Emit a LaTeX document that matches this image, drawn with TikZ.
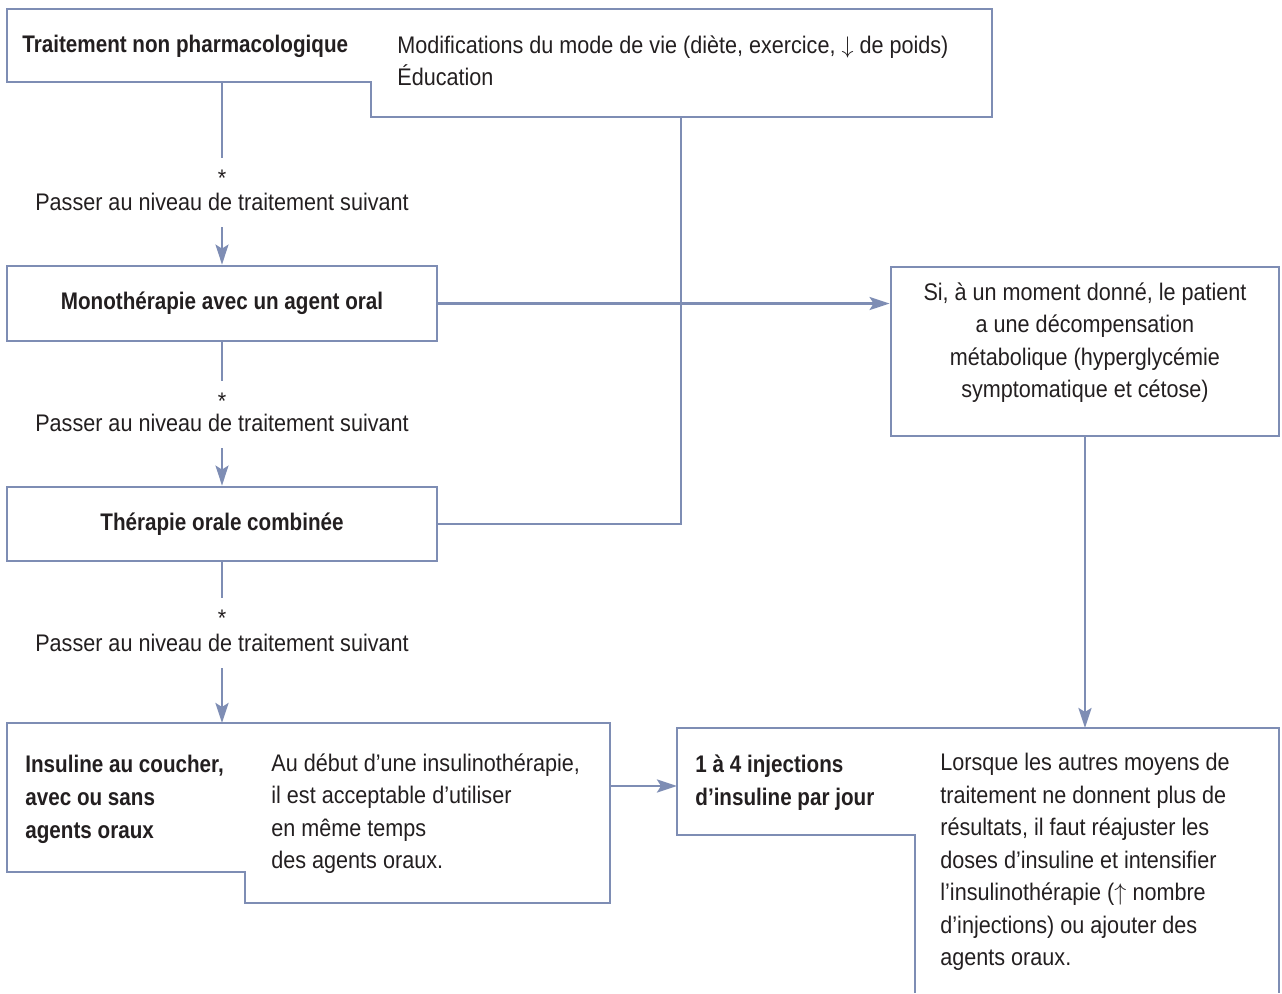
\documentclass[tikz,border=0pt]{standalone}
\usepackage{fontspec}
\setmainfont{Liberation Sans}[FakeStretch=0.9]
\newfontfamily\hdfont{Liberation Sans}[FakeStretch=0.86]
\usetikzlibrary{arrows.meta}
\definecolor{edge}{RGB}{126,141,180}
\definecolor{ink}{RGB}{35,31,32}

\begin{document}
\begin{tikzpicture}[
  x=0.5pt, y=-0.5pt,
  conn/.style={draw=edge, line width=1.4pt},
  arr/.style={conn, -{Stealth[length=10pt, width=6.5pt, inset=2pt]}},
  shapeline/.style={conn, line join=miter},
  txt/.style={inner sep=0pt, text=ink, align=left, font=\fontsize{12}{16.25}\selectfont},
  hd/.style={txt, font=\hdfont\bfseries\fontsize{12}{16.5}\selectfont},
  boxn/.style={conn, hd, align=center, minimum width=215pt, minimum height=37.5pt},
  astk/.style={txt, anchor=north, outer ysep=6pt},
  lab/.style={txt, anchor=base, outer ysep=8.5pt},
]
\useasboundingbox (0,0) rectangle (1282,993);

% top level: non pharmacological
\draw[shapeline] (7,9) -- (992,9) -- (992,117) -- (371,117) -- (371,82) -- (7,82) -- cycle;
\node[hd, anchor=base west] (tnp) at (22,52) {Traitement non pharmacologique};
\node[txt, anchor=north west] (tnpdesc) at (397,35) {Modifications du mode de vie (diète, exercice, $\downarrow$ de poids)\\Éducation};
\coordinate (tnpfoot) at (222,82);
\coordinate (tnpjoin) at (681,117);

% step to monotherapy
\node[astk] (ast1) at (222,158) {*};
\node[lab] (pass1) at (222,210) {Passer au niveau de traitement suivant};
\node[boxn] (mono) at (222,303.5) {Monothérapie avec un agent oral};

% step to combined therapy
\node[astk] (ast2) at (222,381) {*};
\node[lab] (pass2) at (222,431) {Passer au niveau de traitement suivant};
\node[boxn, minimum height=37pt] (combo) at (222,524) {Thérapie orale combinée};

% step to insulin
\node[astk] (ast3) at (222,598) {*};
\node[lab] (pass3) at (222,651) {Passer au niveau de traitement suivant};

% decompensation
\node[conn, minimum width=194pt, minimum height=84.5pt] (si) at (1085,351.5) {};
\node[txt, align=center, anchor=north] (sitxt) at (1085,282) {Si, à un moment donné, le patient\\a une décompensation\\métabolique (hyperglycémie\\symptomatique et cétose)};

% bedtime insulin
\draw[shapeline] (7,723) -- (610,723) -- (610,903) -- (245,903) -- (245,872) -- (7,872) -- cycle;
\node[hd, anchor=north west] (ins) at (25,755) {Insuline au coucher,\\avec ou sans\\agents oraux};
\node[txt, anchor=north west] (insdesc) at (271,753) {Au début d’une insulinothérapie,\\il est acceptable d’utiliser\\en même temps\\des agents oraux.};
\coordinate (instop) at (222,723);
\coordinate (insright) at (610,786);

% 1 to 4 injections
\draw[shapeline] (915,993) -- (915,835) -- (677,835) -- (677,728) -- (1279,728) -- (1279,993);
\node[hd, anchor=north west] (inj) at (695,754) {1 à 4 injections\\d’insuline par jour};
\node[txt, anchor=north west] (injdesc) at (940,753) {Lorsque les autres moyens de\\traitement ne donnent plus de\\résultats, il faut réajuster les\\doses d’insuline et intensifier\\l’insulinothérapie ($\uparrow$ nombre\\d’injections) ou ajouter des\\agents oraux.};
\coordinate (injleft) at (677,786);
\coordinate (injtop) at (1085,728);

% connectors
\draw[conn] (tnpfoot) -- (ast1.north);
\draw[arr] (pass1.south) -- (mono.north);
\draw[conn] (mono.south) -- (ast2.north);
\draw[arr] (pass2.south) -- (combo.north);
\draw[conn] (combo.south) -- (ast3.north);
\draw[arr] (pass3.south) -- (instop);
\draw[arr] (mono.east) -- (mono.east -| si.west);
\draw[conn] (combo.east) -| (tnpjoin);
\draw[arr] (si.south) -- (injtop);
\draw[arr] (insright) -- (injleft);
\end{tikzpicture}
\end{document}
